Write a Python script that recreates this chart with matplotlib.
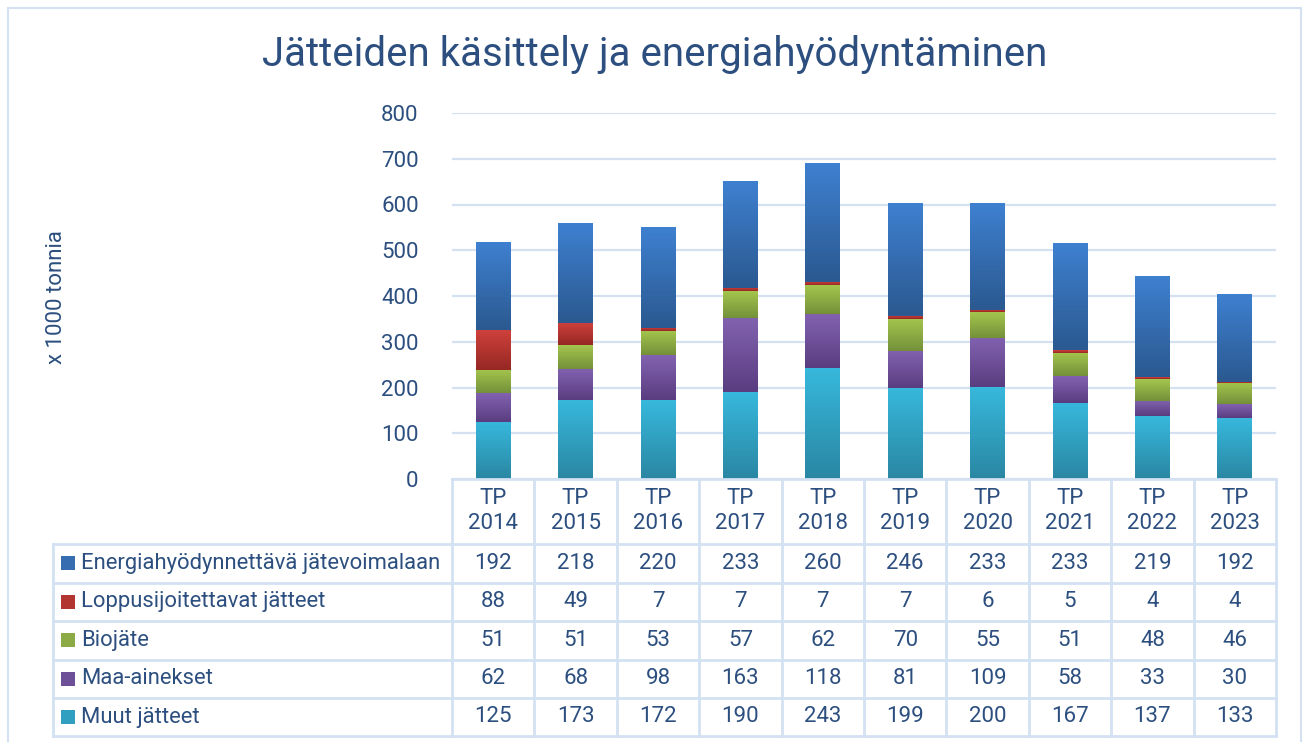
import numpy as np
import matplotlib.pyplot as plt
from matplotlib import transforms
from matplotlib.colors import LinearSegmentedColormap, to_rgb
from matplotlib.patches import Rectangle
from matplotlib.lines import Line2D

# data (x 1000 tonnia)
years = ['TP\n2014', 'TP\n2015', 'TP\n2016', 'TP\n2017', 'TP\n2018',
         'TP\n2019', 'TP\n2020', 'TP\n2021', 'TP\n2022', 'TP\n2023']
muut = [125, 173, 172, 190, 243, 199, 200, 167, 137, 133]
maa = [62, 68, 98, 163, 118, 81, 109, 58, 33, 30]
bio = [51, 51, 53, 57, 62, 70, 55, 51, 48, 46]
loppu = [88, 49, 7, 7, 7, 7, 6, 5, 4, 4]
energia = [192, 218, 220, 233, 260, 246, 233, 233, 219, 192]

# stacking order bottom -> top
names = ['Muut jätteet', 'Maa-ainekset', 'Biojäte',
         'Loppusijoitettavat jätteet', 'Energiahyödynnettävä jätevoimalaan']
series = [muut, maa, bio, loppu, energia]
# (dark bottom, light top)
grads = [('#2a87a3', '#37b8dc'),
         ('#5a3d80', '#8262b0'),
         ('#74913a', '#a4c54d'),
         ('#962824', '#d0413c'),
         ('#2b5990', '#3e80d0')]

TXT = '#2c4f7f'
LINE = '#d3e1f2'

W, H = 1306, 742
fig = plt.figure(figsize=(W / 100, H / 100), dpi=100)
plt.rcParams['font.family'] = ['Roboto', 'DejaVu Sans']

def fx(px):
    return px / W

def fy(py):
    return 1 - py / H

ax = fig.add_axes([fx(452), fy(479), fx(1276) - fx(452), fy(113) - fy(479)])
x = np.arange(len(years))
bottom = np.zeros(len(years))
for vals, (dark, light) in zip(series, grads):
    bars = ax.bar(x, vals, bottom=bottom, width=0.42, color='none', zorder=2)
    cmap = LinearSegmentedColormap.from_list('g', [dark, light])
    for r in bars:
        x0, y0 = r.get_x(), r.get_y()
        ax.imshow(np.linspace(0, 1, 64).reshape(-1, 1), extent=[x0, x0 + r.get_width(), y0, y0 + r.get_height()],
                  origin='lower', cmap=cmap, aspect='auto', zorder=2, interpolation='bilinear')
    bottom += np.array(vals)

ax.set_xlim(-0.5, len(years) - 0.5)
ax.set_ylim(0, 800)
ax.set_yticks(range(0, 801, 100))
ax.tick_params(axis='y', length=0, pad=24, labelsize=16, labelcolor=TXT)
ax.set_xticks([])
ax.yaxis.grid(True, color=LINE, lw=1.6, zorder=0)
ax.set_axisbelow(True)
for s in ax.spines.values():
    s.set_visible(False)

# data table below the plot
bt = transforms.blended_transform_factory(ax.transData, fig.transFigure)
row_lines = [544, 582.5, 621, 659.5, 698, 736]
fig.add_artist(Line2D([fx(452), fx(1276)], [fy(479), fy(479)], color=LINE, lw=2))
for py in row_lines:
    fig.add_artist(Line2D([fx(53), fx(1276)], [fy(py), fy(py)], color=LINE, lw=2))
for i in range(len(years) + 1):
    fig.add_artist(Line2D([i - 0.5, i - 0.5], [fy(479), fy(736)], color=LINE, lw=2, transform=bt))
fig.add_artist(Line2D([fx(53), fx(53)], [fy(544), fy(736)], color=LINE, lw=2))

for i, lab in enumerate(years):
    fig.text(i, fy(511), lab, transform=bt, ha='center', va='center', fontsize=16,
             color=TXT, linespacing=1.3)

table_rows = list(zip(names, series, grads))[::-1]
for k, (name, vals, (dark, light)) in enumerate(table_rows):
    cy = (row_lines[k] + row_lines[k + 1]) / 2
    mid = tuple((np.array(to_rgb(dark)) + np.array(to_rgb(light))) / 2)
    fig.add_artist(Rectangle((fx(61), fy(cy + 7)), fx(14), 14 / H, facecolor=mid, edgecolor='none'))
    fig.text(fx(81), fy(cy), name, ha='left', va='center', fontsize=15.8, color=TXT)
    for i, v in enumerate(vals):
        fig.text(i, fy(cy), str(v), transform=bt, ha='center', va='center', fontsize=16, color=TXT)

fig.text(fx(655), fy(55), 'Jätteiden käsittely ja energiahyödyntäminen', ha='center', va='center',
         fontsize=29, color=TXT)
fig.text(fx(57), fy(297), 'x 1000 tonnia', rotation=90, ha='center', va='center', fontsize=16, color=TXT)

fig.add_artist(Rectangle((fx(8), fy(800)), fx(1301) - fx(8), fy(8) - fy(800), fill=False,
                         edgecolor=LINE, lw=1.5))

fig.savefig('out.png', dpi=100)
